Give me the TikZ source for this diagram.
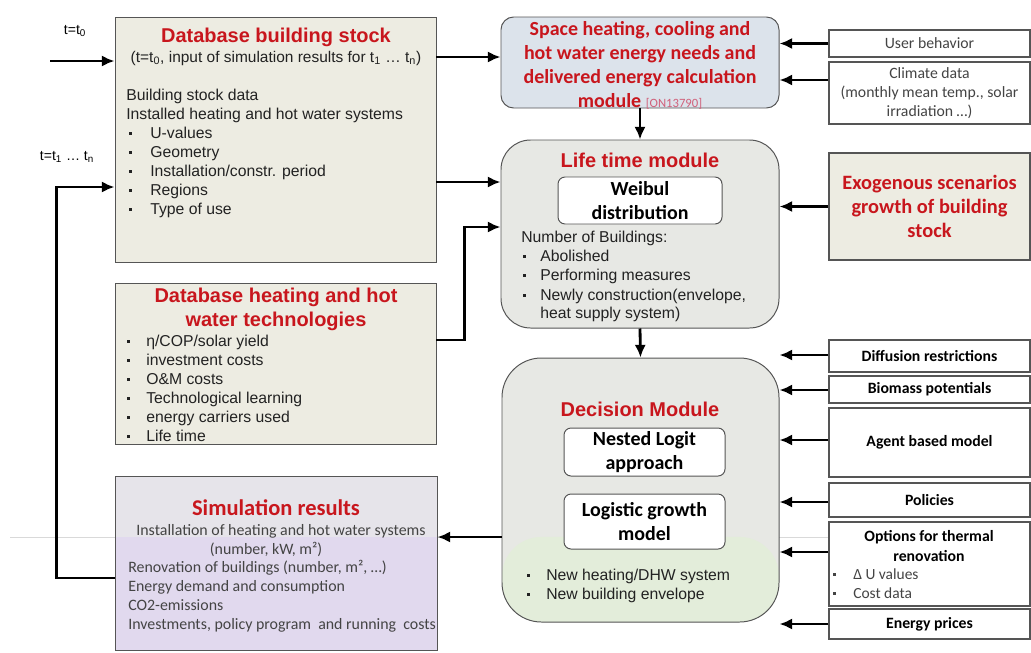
\documentclass[tikz,border=0pt]{standalone}
\usepackage{fontspec}
\setmainfont{Liberation Sans}
\newfontfamily\carl{Carlito}
\usetikzlibrary{arrows.meta,positioning,fit}

\definecolor{boxbeige}{HTML}{EDECE2}
\definecolor{boxblue}{HTML}{DCE3EB}
\definecolor{boxgray}{HTML}{E7E8E4}
\definecolor{boxgreen}{HTML}{E3EDDA}
\definecolor{boxlilac}{HTML}{E1D9EE}
\definecolor{boxlilactop}{HTML}{E6E4EA}
\definecolor{titlered}{HTML}{C8161D}
\definecolor{refpink}{HTML}{D0607A}
\definecolor{textgray}{HTML}{222222}
\definecolor{softgray}{HTML}{444444}
\definecolor{edgegray}{HTML}{555555}

\newcommand{\bodyfont}{\fontsize{11.2}{13}\selectfont}
\newcommand{\sidefont}{\carl\bfseries\fontsize{11.2}{13}\selectfont}

\begin{document}
\begin{tikzpicture}[x=0.025cm, y=-0.025cm,
	box/.style={draw=edgegray, line width=0.7pt, inner sep=0pt},
	inbox/.style={box, fill=white, rounded corners=5pt},
	intxt/.style={align=center, font=\carl\bfseries\fontsize{14.2}{17}\selectfont},
	sidebox/.style={draw=edgegray, line width=0.8pt, fill=white, inner sep=0pt},
	ttl/.style={inner sep=0pt, text=titlered, font=\bfseries\fontsize{14.2}{17}\selectfont},
	txt/.style={anchor=west, inner sep=0pt, text=textgray, font=\bodyfont,
		text height=8.5pt, text depth=1pt},
	simtxt/.style={txt, text=softgray, font=\carl\fontsize{11.3}{13}\selectfont},
	flow/.style={-{Latex[length=9pt,width=8pt]}, line width=2pt}]
	\useasboundingbox (0,0) rectangle (1031,652);
	\draw[gray!30, line width=0.5pt] (10,537) -- (1031,537);

	% left column
	\node[box, fill=boxbeige, fit={(115,17) (436,262)}] (dbs) {};
	\node[ttl] at (276,37) {Database building stock};
	\node[inner sep=0pt, text=textgray, font=\fontsize{11}{13}\selectfont] at (276,58)
		{(t=t\textsubscript{0}, input of simulation results for t\textsubscript{1} \dots\ t\textsubscript{n})};
	\node[txt] at (126,95) {Building stock data};
	\node[txt] at (126,114) {Installed heating and hot water systems};
	\foreach \t [count=\i from 0, evaluate=\i as \c using 133+19*\i] in
		{U-values, Geometry, Installation/constr. period, Regions, Type of use}{
		\fill[textgray] (129,\c-1.5) rectangle ++(3,3);
		\node[txt] at (150,\c) {\t};
	}

	\node[box, fill=boxbeige, fit={(115,283) (436,444)}] (dbh) {};
	\node[ttl, align=center] at (276,309) {Database heating and hot\\water technologies};
	\foreach \t [count=\i from 0, evaluate=\i as \c using 341+19*\i] in
		{η/COP/solar yield, investment costs, O\&M costs, Technological learning,
		 energy carriers used, Life time}{
		\fill[textgray] (127,\c-1.5) rectangle ++(3,3);
		\node[txt] at (146,\c) {\t};
	}

	\node[box, fill=boxlilactop, fit={(115,476) (437,650)},
		path picture={\fill[boxlilac] (path picture bounding box.south west)
			rectangle ([yshift=80.4pt]path picture bounding box.south east);}] (sim) {};
	\node[ttl, font=\carl\bfseries\fontsize{16}{18}\selectfont] at (276,508) {Simulation results};
	\node[simtxt, anchor=center] at (281,530) {Installation of heating and hot water systems};
	\node[simtxt, anchor=center] at (266,549) {(number, kW, m²)};
	\foreach \t [count=\i from 0, evaluate=\i as \c using 567+19*\i] in
		{{Renovation of buildings (number, m², \ldots)}, Energy demand and consumption,
		 CO2-emissions, Investments{,} policy program\ \ and running\ \ costs}
		\node[simtxt] at (128,\c) {\t};

	\node[font=\fontsize{10}{12}\selectfont] (t0) at (75,31) {t=t\textsubscript{0}};
	\node[font=\fontsize{10}{12}\selectfont] (tn) at (67,157) {t=t\textsubscript{1} \ldots\ t\textsubscript{n}};

	% middle column
	\node[box, fill=boxblue, rounded corners=9pt, fit={(501,17) (779,108)}] (sh) {};
	\node[ttl, align=center, font=\carl\bfseries\fontsize{14.2}{17}\selectfont] at (640,65)
		{Space heating, cooling and\\hot water energy needs and\\delivered energy calculation\\
		 module {\mdseries\fontsize{9}{10}\selectfont\color{refpink}[ON13790]}};

	\node[box, fill=boxgray, rounded corners=21pt, fit={(501,140) (779,328)}] (lt) {};
	\node[ttl] at (640,160) {Life time module};
	\node[inbox, fit={(558,177) (722,224)}] (wb) {};
	\node[intxt] at (wb.center) {Weibul\\distribution};
	\node[txt] at (521,237) {Number of Buildings:};
	\foreach \t [count=\i from 0, evaluate=\i as \c using 256+19.5*\i] in
		{Abolished, Performing measures, {Newly construction(envelope,}}{
		\fill[textgray] (523,\c-1.5) rectangle ++(3,3);
		\node[txt] at (540,\c) {\t};
	}
	\node[txt] at (540,313) {heat supply system)};

	\node[box, fill=boxgray, rounded corners=28pt, fit={(502,358) (779,622)},
		path picture={\fill[boxgreen] (path picture bounding box.south west)
			rectangle ([yshift=60.5pt]path picture bounding box.south east);}] (dm) {};
	\node[ttl] at (640,409) {Decision Module};
	\node[inbox, fit={(564,428) (725,476)}] (nl) {};
	\node[intxt] at (nl.center) {Nested Logit\\approach};
	\node[inbox, fit={(564,494) (725,549)}] (lg) {};
	\node[intxt] at (lg.center) {Logistic growth\\model};
	\foreach \t [count=\i from 0, evaluate=\i as \c using 575+19*\i] in
		{New heating/DHW system, New building envelope}{
		\fill[textgray] (527,\c-1.5) rectangle ++(3,3);
		\node[txt] at (546,\c) {\t};
	}

	% right column
	\node[sidebox, fit={(829,30) (1030,57)}] (ub) {};
	\node[text=softgray, font=\carl\fontsize{11.2}{13}\selectfont] at (ub.center) {User behavior};
	\node[sidebox, fit={(829,62) (1030,124)}] (cd) {};
	\node[align=center, text=softgray, font=\carl\fontsize{11.2}{13.5}\selectfont] at (cd.center)
		{Climate data\\(monthly mean temp., solar\\irradiation \ldots)};
	\node[sidebox, fill=boxbeige, fit={(829,153) (1030,260)}] (ex) {};
	\node[ttl, align=center, font=\carl\bfseries\fontsize{14.5}{17}\selectfont] at (ex.center)
		{Exogenous scenarios\\growth of building\\stock};
	\node[sidebox, fit={(829,340) (1030,372)}] (df) {};
	\node[font=\sidefont] at (df.center) {Diffusion restrictions};
	\node[sidebox, fit={(829,376) (1030,403)}] (bm) {};
	\node[font=\sidefont] at (bm.center) {Biomass potentials};
	\node[sidebox, fit={(829,408) (1030,477)}] (ab) {};
	\node[font=\sidefont] at (ab.center) {Agent based model};
	\node[sidebox, fit={(829,483) (1030,517)}] (po) {};
	\node[font=\sidefont] at (po.center) {Policies};
	\node[sidebox, fit={(829,522) (1030,606)}] (ot) {};
	\node[align=center, font=\carl\bfseries\fontsize{11.2}{14}\selectfont] at (929,546)
		{Options for thermal\\renovation};
	\foreach \t [count=\i from 0, evaluate=\i as \c using 574+19*\i] in {Δ U values, Cost data}{
		\fill[softgray] (833,\c-1.5) rectangle ++(3,3);
		\node[simtxt, font=\carl\fontsize{11}{12}\selectfont] at (853,\c) {\t};
	}
	\node[sidebox, fit={(829,609) (1030,639)}] (ep) {};
	\node[font=\sidefont] at (ep.center) {Energy prices};

	% connectors
	\draw[flow] (t0 |- 0,61) ++(-25,0) -- (dbs.west |- 0,61);
	\draw[flow] (dbs.east |- 0,57) -- (sh.west |- 0,57);
	\draw[flow] (dbs.east |- 0,182) -- (lt.west |- 0,182);
	\draw[flow] (dbh.east |- 0,340) -- ++(28,0) |- (lt.west |- 0,227);
	\draw[flow] (sim.west |- 0,578) -- ++(-58,0) |- (dbs.west |- 0,187);
	\draw[flow] (sh.south) -- (lt.north);
	\draw[flow] (lt.south) -- (dm.north);
	\draw[flow] (dm.west |- 0,537) -- (sim.east |- 0,537);
	\draw[flow] (ub.west) -- (ub.west -| sh.east);
	\draw[flow] (cd.west |- 0,80) -- (sh.east |- 0,80);
	\draw[flow] (ex.west) -- (ex.west -| lt.east);
	\foreach \src/\y in {df/355, bm/390, ab/440, po/502, ot/552, ep/624}
		\draw[flow] (\src.west |- 0,\y) -- (dm.east |- 0,\y);
\end{tikzpicture}
\end{document}
